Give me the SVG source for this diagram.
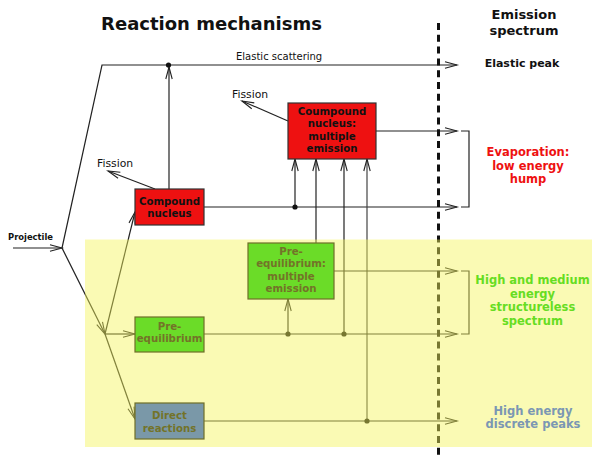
<svg xmlns="http://www.w3.org/2000/svg" width="592" height="456" viewBox="0 0 592 456">
<style>
text{font-family:"DejaVu Sans","Liberation Sans",sans-serif;}
.b{font-weight:bold;}
.c{stroke:#222;stroke-width:1.2;fill:none;}
.a{marker-end:url(#arr);}
.dot{fill:#111;}
.red rect{fill:#ee1111;stroke:#333;stroke-width:1.2;}
.red text{fill:#111;font-size:10.2px;font-weight:bold;text-anchor:middle;}
.grn rect{fill:#6bdc28;stroke:#6e6e28;stroke-width:1.2;}
.blu rect{fill:#7a98a8;stroke:#6e6e28;stroke-width:1.2;}
.grn text,.blu text{fill:#737328;font-size:10.2px;font-weight:bold;text-anchor:middle;}
.lab{font-size:11.5px;font-weight:bold;text-anchor:middle;}
</style>
<defs>
<marker id="arr" markerUnits="userSpaceOnUse" markerWidth="16" markerHeight="10" viewBox="-13 -5 16 10" refX="0" refY="0" orient="auto" overflow="visible">
<path d="M-12,-3.2 L0,0 L-12,3.2" fill="none" stroke="#222" stroke-width="1.1"/>
</marker>
</defs>
<rect x="0" y="0" width="592" height="456" fill="#ffffff"/>
<g id="connectors">
<line class="c a" x1="13" y1="248" x2="62" y2="248"/>
<polyline class="c a" points="62,248 102,65 457,65"/>
<line class="c a" x1="62" y1="248" x2="105" y2="334"/>
<line class="c a" x1="105" y1="334" x2="135" y2="212"/>
<line class="c a" x1="105" y1="334" x2="135" y2="334"/>
<line class="c a" x1="105" y1="334" x2="135" y2="419"/>
<line class="c a" x1="169" y1="189" x2="169" y2="67"/>
<line class="c a" x1="155" y1="189" x2="108" y2="171"/>
<line class="c a" x1="288" y1="121" x2="242" y2="101"/>
<line class="c a" x1="204" y1="207" x2="457" y2="207"/>
<line class="c a" x1="295" y1="207" x2="295" y2="159"/>
<line class="c a" x1="376" y1="131" x2="457" y2="131"/>
<line class="c a" x1="316" y1="243" x2="316" y2="159"/>
<line class="c a" x1="344" y1="334" x2="344" y2="159"/>
<line class="c a" x1="367" y1="421" x2="367" y2="159" style="stroke:#444"/>
<line class="c a" x1="204" y1="334" x2="457" y2="334"/>
<line class="c a" x1="288" y1="334" x2="288" y2="299"/>
<line class="c a" x1="334" y1="271" x2="457" y2="271"/>
<line class="c a" x1="204" y1="421" x2="457" y2="421"/>
<polyline class="c" points="461,131 469,131 469,207 461,207"/>
<polyline class="c" points="461,271 469,271 469,334 461,334"/>
<circle class="dot" cx="168.5" cy="65" r="2.6"/>
<circle class="dot" cx="295" cy="207" r="2.6"/>
<circle class="dot" cx="288" cy="334" r="2.6"/>
<circle class="dot" cx="344" cy="334" r="2.6"/>
<circle class="dot" cx="367" cy="421" r="2.6"/>
</g>
<line id="divider" x1="438.5" y1="23" x2="438.5" y2="456" stroke="#111" stroke-width="3" stroke-dasharray="7 4.8"/>
<rect id="region" x="85" y="239.5" width="507" height="207.5" fill="#f4f459" fill-opacity="0.45"/>
<g id="compound" class="red">
<rect x="135" y="189" width="69" height="36"/>
<text x="169.5" y="205">Compound</text>
<text x="169.5" y="217">nucleus</text>
</g>
<g id="compound-multiple" class="red">
<rect x="288" y="103" width="88" height="56"/>
<text x="332" y="114.5">Coumpound</text>
<text x="332" y="127">nucleus:</text>
<text x="332" y="139.5">multiple</text>
<text x="332" y="152">emission</text>
</g>
<g id="preeq-multiple" class="grn">
<rect x="248" y="243" width="86" height="56"/>
<text x="291" y="254.5">Pre-</text>
<text x="291" y="267">equilibrium:</text>
<text x="291" y="279.5">multiple</text>
<text x="291" y="292">emission</text>
</g>
<g id="preeq" class="grn">
<rect x="135" y="317" width="69" height="35"/>
<text x="169.5" y="329.5">Pre-</text>
<text x="169.5" y="342">equilibrium</text>
</g>
<g id="direct" class="blu">
<rect x="135" y="403" width="69" height="36"/>
<text x="169.5" y="418.5">Direct</text>
<text x="169.5" y="431.5">reactions</text>
</g>
<g id="labels">
<text x="211.5" y="30" class="b" font-size="18" text-anchor="middle" fill="#111">Reaction mechanisms</text>
<text x="524" y="18.5" class="b" font-size="13" text-anchor="middle" fill="#111">Emission</text>
<text x="524" y="35" class="b" font-size="13" text-anchor="middle" fill="#111">spectrum</text>
<text x="236" y="60" font-size="10" fill="#111">Elastic scattering</text>
<text x="97" y="166.5" font-size="10.8" fill="#111">Fission</text>
<text x="232" y="98" font-size="10.8" fill="#111">Fission</text>
<text x="8" y="240" class="b" font-size="8.4" fill="#111">Projectile</text>
<text x="522" y="67" class="b" font-size="11" text-anchor="middle" fill="#111">Elastic peak</text>
<g class="lab" fill="#ee1111">
<text x="528" y="156">Evaporation:</text>
<text x="528" y="169.5">low energy</text>
<text x="528" y="183">hump</text>
</g>
<g class="lab" fill="#66dd22">
<text x="532.5" y="284">High and medium</text>
<text x="532.5" y="297.5">energy</text>
<text x="532.5" y="311">structureless</text>
<text x="532.5" y="324.5">spectrum</text>
</g>
<g class="lab" fill="#7b97b3">
<text x="533" y="415">High energy</text>
<text x="533" y="428">discrete peaks</text>
</g>
</g>
</svg>
